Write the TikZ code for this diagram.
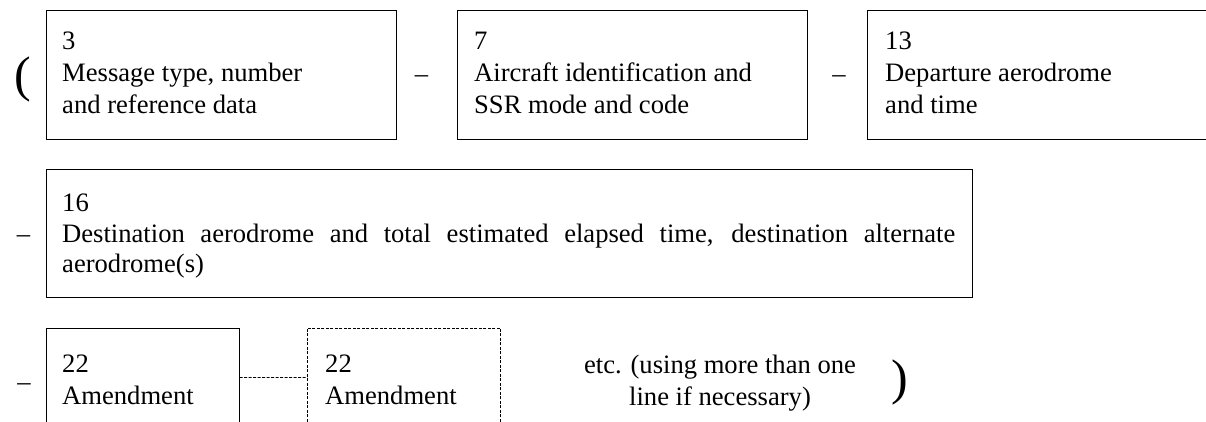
\documentclass[tikz,border=0pt]{standalone}
\usepackage{fontspec}
\setmainfont{Liberation Serif}
\begin{document}
\begin{tikzpicture}[x=1pt,y=-1pt,
  box/.style={draw, line width=1pt, inner sep=0pt, anchor=north west},
  dbox/.style={draw, line width=0.8pt, dash pattern=on 3pt off 1.5pt, inner sep=0pt, anchor=north west},
  conn/.style={line width=0.8pt, dash pattern=on 3pt off 1.5pt},
  txt/.style={inner sep=0pt, align=left, anchor=north west, font=\fontsize{26.6}{32}\selectfont},
  sep/.style={inner sep=0pt, anchor=base, font=\fontsize{26.6}{32}\selectfont},
  paren/.style={inner sep=0pt, font=\fontsize{50}{50}\selectfont}]
\useasboundingbox (0,0) rectangle (1206,421);
\clip (0,0) rectangle (1206,421);
% row 1
\node[paren] (lp) at (22.5,79.5) {(};
\node[box, minimum width=350, minimum height=129] (b1) at (46,10) {};
\node[txt] (t1) at (62,32) {3\\Message type, number\\and reference data};
\node[sep] (d1) at (421.5,82.6) {–};
\node[box, minimum width=350, minimum height=129] (b2) at (457,10) {};
\node[txt] (t2) at (474,32) {7\\Aircraft identification and\\SSR mode and code};
\node[sep] (d2) at (839,82.6) {–};
\node[box, minimum width=360, minimum height=129] (b3) at (867,10) {};
\node[txt] (t3) at (885,32) {13\\Departure aerodrome\\and time};
% row 2
\node[sep] (d3) at (23.5,242.6) {–};
\node[box, minimum width=926, minimum height=128] (b16) at (46,169) {};
\node[txt, text width=893pt, align=justify, font={\fontsize{26.6}{30.5}\selectfont},
  execute at begin node={\tolerance=10000\relax\hbadness=10000\relax\hyphenpenalty=10000\relax\exhyphenpenalty=10000\relax}] (t16) at (62,194)
  {16\\Destination aerodrome and total estimated elapsed time, destination alternate aerodrome(s)};
% row 3
\node[sep] (d4) at (24,390.6) {–};
\node[box, minimum width=192.5, minimum height=99] (b22a) at (46,327.5) {};
\node[txt] (t22a) at (62,355) {22\\Amendment};
\node[dbox, minimum width=193, minimum height=99] (b22b) at (307,327.5) {};
\node[txt] (t22b) at (325,355) {22\\Amendment};
\draw[conn] (b22a.east) -- (b22b.west);
\node[txt, align=center, anchor=north] (etc) at (720,354.5) {etc. (using more than one\\line if necessary)};
\node[paren] (rp) at (900,382) {)};
\end{tikzpicture}
\end{document}
